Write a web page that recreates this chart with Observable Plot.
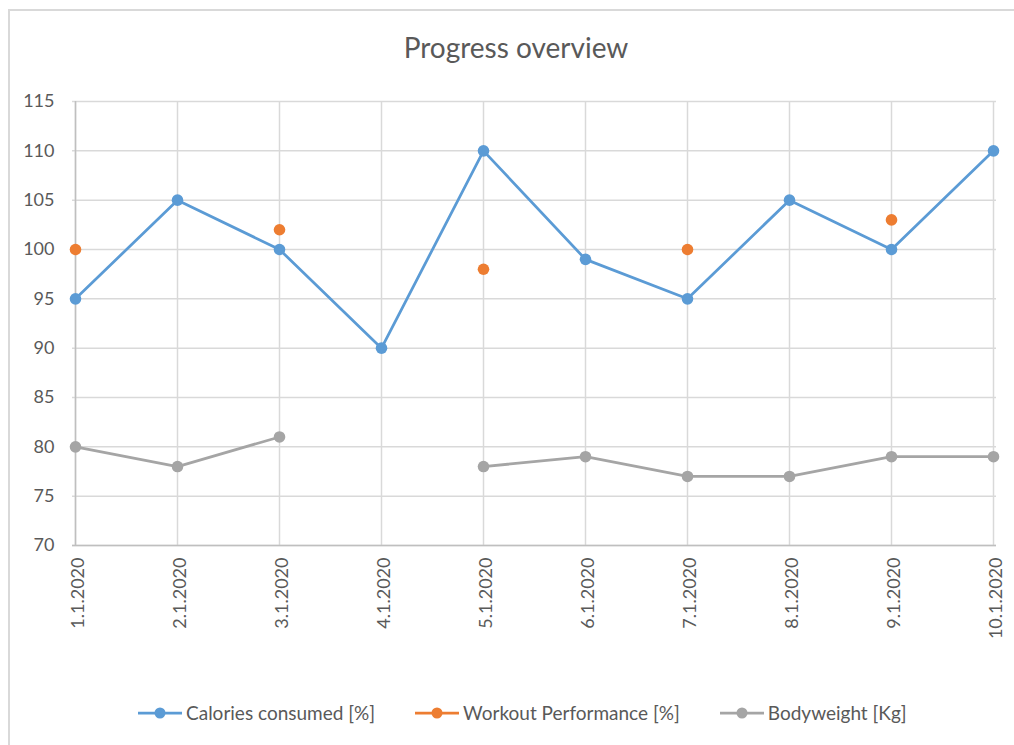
<!DOCTYPE html>
<html><head><meta charset="utf-8">
<script src="https://cdn.jsdelivr.net/npm/d3@7"></script>
<script src="https://cdn.jsdelivr.net/npm/@observablehq/plot@0.6"></script>
<style>
html,body{margin:0;padding:0;background:#fff;overflow:hidden;}
#wrap{position:relative;width:1014px;height:745px;font-family:Lato,"Open Sans",sans-serif;color:#595959;overflow:hidden;}
#frame{position:absolute;left:8px;top:9px;width:1100px;height:800px;border-left:2px solid #d9d9d9;border-top:2px solid #d9d9d9;}
#title{position:absolute;top:30px;left:0;width:1032px;text-align:center;font-size:28px;line-height:34px;}
#chart{position:absolute;left:0;top:80px;}
#legend{position:absolute;left:138px;top:701px;display:flex;align-items:center;gap:40px;font-size:19px;line-height:24px;white-space:nowrap;}
#legend .item{display:flex;align-items:center;}
#legend svg{margin-right:4px;}
</style>
</head><body>
<div id="wrap">
  <div id="frame"></div>
  <div id="title">Progress overview</div>
  <div id="chart"></div>
  <div id="legend"></div>
</div>
<script>
const categories = ["1.1.2020","2.1.2020","3.1.2020","4.1.2020","5.1.2020","6.1.2020","7.1.2020","8.1.2020","9.1.2020","10.1.2020"];
const calories = [95,105,100,90,110,99,95,105,100,110];
const workout = [100,null,102,null,98,null,100,null,103,null];
const bodyweight = [80,78,81,null,78,79,77,77,79,79];
const yTicks = [70,75,80,85,90,95,100,105,110,115];
const seriesNames = ["Calories consumed [%]","Workout Performance [%]","Bodyweight [Kg]"];
const seriesColors = ["#5b9bd5","#ed7d31","#a5a5a5"];
const seriesValues = [calories, workout, bodyweight];

const rows = seriesNames.flatMap((name, s) =>
  categories.map((c, i) => ({date: c, value: seriesValues[s][i], series: name})));

const chart = Plot.plot({
  width: 1014,
  height: 590,
  marginLeft: 72,
  marginRight: 18,
  marginTop: 21,
  marginBottom: 125,
  style: {fontFamily: "Lato, 'Open Sans', sans-serif", fontSize: "18px", color: "#595959", background: "transparent"},
  x: {type: "point", domain: categories, padding: 0, range: [72, 996], label: null},
  y: {domain: [70, 115], range: [465, 21], label: null},
  color: {domain: seriesNames, range: seriesColors},
  marks: [
    Plot.gridX(categories, {stroke: "#d9d9d9", strokeOpacity: 1, strokeWidth: 1.5}),
    Plot.gridY(yTicks, {stroke: "#d9d9d9", strokeOpacity: 1, strokeWidth: 1.5}),
    Plot.ruleX([categories[0]], {stroke: "#bfbfbf", strokeWidth: 1.5}),
    Plot.ruleY([yTicks[0]], {stroke: "#bfbfbf", strokeWidth: 1.5}),
    Plot.axisY(yTicks, {tickSize: 0, tickPadding: 18, fill: "#595959", label: null}),
    Plot.axisX(categories, {tickSize: 0, tickRotate: -90, tickPadding: 12, dx: 3, fill: "#595959", label: null}),
    Plot.line(rows, {x: "date", y: "value", z: "series", stroke: "series", strokeWidth: 2.75, curve: "linear"}),
    Plot.dot(rows, {x: "date", y: "value", fill: "series", r: 5.8, stroke: null})
  ]
});
document.getElementById("chart").appendChild(chart);

const legend = document.getElementById("legend");
seriesNames.forEach((name, s) => {
  const item = document.createElement("div");
  item.className = "item";
  item.innerHTML = `<svg width="44" height="14"><line x1="0" x2="44" y1="7" y2="7" stroke="${seriesColors[s]}" stroke-width="2.75"/><circle cx="22" cy="7" r="5.5" fill="${seriesColors[s]}"/></svg><span>${name}</span>`;
  legend.appendChild(item);
});
</script>
</body></html>
